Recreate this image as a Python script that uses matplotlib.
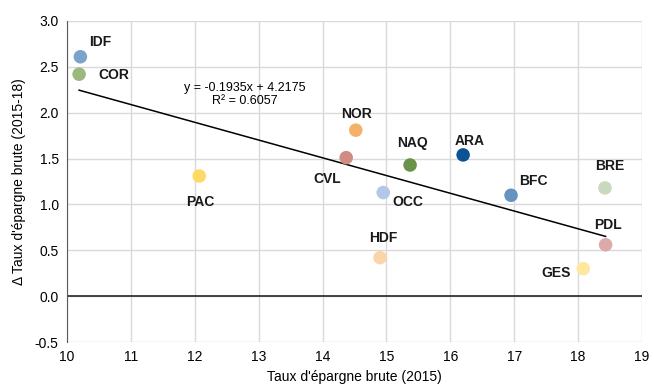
import matplotlib.pyplot as plt
import numpy as np

plt.rcParams['font.family'] = ['Liberation Sans', 'DejaVu Sans']

regions = ["IDF", "COR", "PAC", "NOR", "CVL", "OCC", "NAQ", "ARA", "BFC", "BRE", "PDL", "GES", "HDF"]
taux_2015 = [10.21, 10.19, 12.07, 14.52, 14.37, 14.95, 15.37, 16.20, 16.95, 18.42, 18.43, 18.08, 14.90]
delta_taux = [2.61, 2.42, 1.31, 1.81, 1.51, 1.13, 1.43, 1.54, 1.10, 1.18, 0.56, 0.30, 0.42]
couleurs = ["#7ba3cc", "#9db87f", "#ffd966", "#f4b168", "#d08b82", "#b4c7e7", "#6a9349",
            "#0b5394", "#6594c0", "#c9d9be", "#dda9a9", "#ffe79e", "#f9d5a7"]
# decalage des etiquettes (pixels)
decalages = [(20, 15), (35, -1), (1, -26), (1, 16), (-19, -21), (25, -9), (2, 22),
             (7, 14), (22, 14), (5, 22), (2, 20), (-27, -4), (3, 20)]

pente = -0.1935
ordonnee = 4.2175
r2 = 0.6057

fig = plt.figure(figsize=(6.54, 3.91), dpi=100)
ax = fig.add_axes([0.1024, 0.1253, 0.8793, 0.8210])

ax.set_xlim(10, 19)
ax.set_ylim(-0.5, 3.0)
ax.set_xticks(np.arange(10, 20, 1))
ax.set_yticks(np.arange(-0.5, 3.01, 0.5))
ax.set_yticklabels([f"{v:.1f}" for v in np.arange(-0.5, 3.01, 0.5)])
ax.grid(True, color="#d9d9d9", linewidth=1)
ax.set_axisbelow(True)
for s in ["top", "right", "bottom"]:
    ax.spines[s].set_visible(False)
ax.spines["left"].set_color("#595959")
ax.tick_params(length=0, labelsize=10, pad=6)

ax.axhline(0, color="#262626", linewidth=1.2, zorder=2)

# droite de tendance
xs = np.array([min(taux_2015), max(taux_2015)])
ax.plot(xs, pente * xs + ordonnee, color="black", linewidth=1.1, zorder=3)
ax.text(12.78, 2.2, f"y = {pente}x + {ordonnee}\nR² = {r2}", ha="center", va="center",
        fontsize=9, linespacing=1.15)

ax.scatter(taux_2015, delta_taux, s=95, c=couleurs, zorder=4, linewidths=0)
for nom, x, y, d in zip(regions, taux_2015, delta_taux, decalages):
    ax.annotate(nom, (x, y), xytext=d, textcoords="offset pixels", ha="center", va="center",
                fontsize=10, fontweight="bold", color="#1a1a1a")

ax.set_xlabel("Taux d'épargne brute (2015)", fontsize=10, labelpad=4)
ax.set_ylabel("Δ Taux d'épargne brute (2015-18)", fontsize=10, labelpad=6)

fig.savefig("out.png", dpi=100)
